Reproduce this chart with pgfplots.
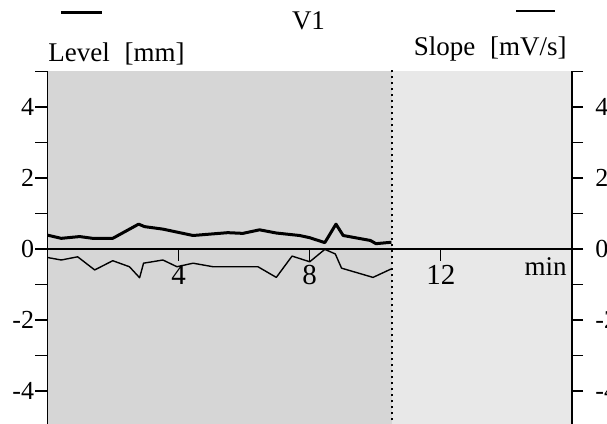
\documentclass[border=0pt]{standalone}
\usepackage{fontspec}
\setmainfont{Liberation Serif}
\usepackage{pgfplots}
\pgfplotsset{compat=1.18}
\pgfplotstableread{
x y
0 0.39
0.42 0.30
0.98 0.35
1.38 0.30
1.99 0.30
2.78 0.70
2.96 0.63
3.52 0.56
4.44 0.38
5.50 0.46
5.96 0.44
6.47 0.54
6.98 0.45
7.69 0.38
7.99 0.32
8.46 0.18
8.80 0.70
9.02 0.38
9.85 0.24
10.02 0.15
10.49 0.19
}\levdata
\pgfplotstableread{
x y
0 -0.24
0.42 -0.31
0.92 -0.22
1.44 -0.59
1.99 -0.33
2.50 -0.50
2.81 -0.81
2.93 -0.40
3.52 -0.31
3.95 -0.50
4.44 -0.40
5.05 -0.50
6.42 -0.50
6.98 -0.80
7.46 -0.20
8.00 -0.36
8.46 -0.01
8.78 -0.14
8.97 -0.54
9.93 -0.80
10.49 -0.56
}\slopedata
\begin{document}
\begin{tikzpicture}[x=1pt,y=1pt]
\begin{axis}[
  at={(23.75pt,-1.25pt)}, anchor=south west,
  scale only axis, width=262.25pt, height=177.5pt,
  xmin=0, xmax=16, ymin=-5, ymax=5,
  axis x line=middle, axis y line=left,
  axis line style={-, line width=0.7pt, black},
  axis on top,
  clip=false,
  tick align=outside,
  major tick length=6pt, minor tick length=6pt,
  tick style={line width=0.6pt, black},
  xtick={4,8,12}, xticklabels={4,8,12},
  ytick={-4,-2,0,2,4}, yticklabels={-4,-2,0,2,4},
  minor ytick={-5,-3,-1,1,3,5},
  xticklabel style={font=\fontsize{14.5}{17}\selectfont, inner sep=1pt, yshift=-1pt},
  yticklabel style={font=\fontsize{13}{15}\selectfont, inner sep=1pt, xshift=0.5pt},
]
\addplot[fill=black!16, draw=none] coordinates {(0,-5) (0,5) (10.5,5) (10.5,-5)} -- cycle;
\addplot[fill=black!9, draw=none] coordinates {(10.5,-5) (10.5,5) (16,5) (16,-5)} -- cycle;
\addplot[dotted, line width=1pt, black] coordinates {(10.5,-5) (10.5,5.1)};
\addplot[line width=1.5pt, black, line join=round] table[x=x,y=y] {\levdata};
\addplot[line width=0.7pt, black, line join=round] table[x=x,y=y] {\slopedata};
\node[anchor=base east, font=\fontsize{13.5}{16}\selectfont, inner sep=0pt] at (axis cs:15.85,-0.76) {min};
\end{axis}
\begin{axis}[
  at={(23.75pt,-1.25pt)}, anchor=south west,
  scale only axis, width=262.25pt, height=177.5pt,
  xmin=0, xmax=16, ymin=-5, ymax=5,
  axis x line=none, axis y line=right,
  axis line style={-, line width=0.7pt, black},
  tick align=outside,
  major tick length=5.5pt, minor tick length=5.5pt,
  tick style={line width=0.6pt, black},
  ytick={-4,-2,0,2,4}, yticklabels={-4,-2,0,2,4},
  minor ytick={-5,-3,-1,1,3,5},
  yticklabel style={font=\fontsize{13}{15}\selectfont, inner sep=1pt, xshift=5pt},
]
\end{axis}
\node[anchor=base, font=\fontsize{13.5}{16}\selectfont, inner sep=0pt] at (154.25,197) {V1};
\node[anchor=base west, font=\fontsize{13.5}{16}\selectfont, inner sep=0pt] at (24,181) {Level\hspace{0.55em}[mm]};
\node[anchor=base east, font=\fontsize{13.5}{16}\selectfont, inner sep=0pt] at (283.5,184) {Slope\hspace{0.55em}[mV/s]};
\draw[line width=1.5pt, black] (30.5,205.5) -- (51,205.5);
\draw[line width=0.6pt, black] (258,206.5) -- (277.5,206.5);
\pgfresetboundingbox
\path[use as bounding box] (0,0) rectangle (303.5,212);
\end{tikzpicture}
\end{document}
